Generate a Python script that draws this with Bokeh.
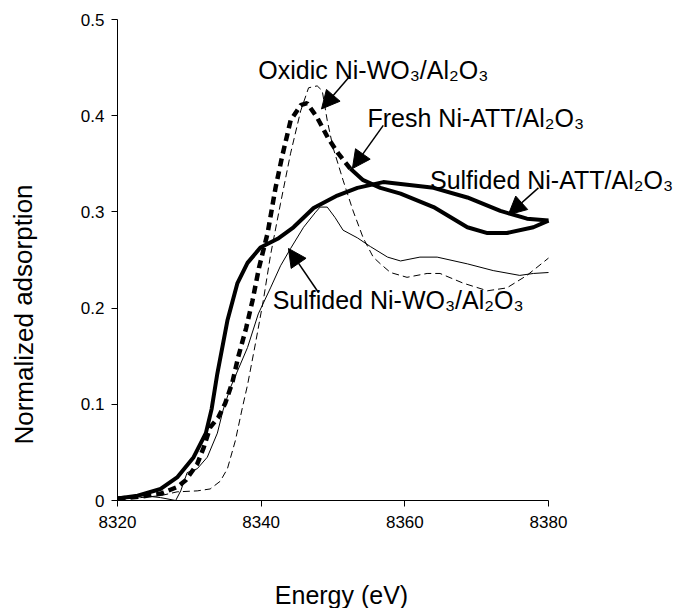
from bokeh.plotting import figure
from bokeh.models import Range1d, FixedTicker, Label, Arrow, NormalHead, LinearAxis
from bokeh.embed import file_html
from bokeh.resources import INLINE

# ---- data ----
sulf_att_E = [8320.0, 8322.8, 8326.0, 8328.3, 8330.6, 8332.3, 8333.1, 8333.9, 8335.3, 8336.7,
              8338.1, 8339.9, 8342.3, 8344.5, 8347.3, 8350.6, 8353.4, 8357.0, 8364.0, 8368.7,
              8373.3, 8377.0, 8380.0]
sulf_att_A = [0.002, 0.005, 0.012, 0.024, 0.045, 0.070, 0.095, 0.132, 0.187, 0.226,
              0.247, 0.263, 0.272, 0.284, 0.304, 0.317, 0.325, 0.331, 0.325, 0.315,
              0.301, 0.293, 0.291]

fresh_E = [8320.0, 8323.2, 8326.0, 8328.3, 8329.5, 8331.1, 8332.0, 8332.9, 8334.0, 8335.0,
           8336.0, 8336.8, 8337.9, 8338.8, 8339.7, 8340.9, 8342.0, 8342.9, 8344.1, 8345.5,
           8346.4, 8347.8, 8349.3, 8350.7, 8352.4, 8354.2, 8356.6, 8359.4, 8364.0, 8368.7,
           8371.5, 8374.2, 8377.9, 8380.0]
fresh_A = [0.002, 0.004, 0.007, 0.014, 0.021, 0.038, 0.055, 0.076, 0.086, 0.101,
           0.123, 0.149, 0.179, 0.208, 0.242, 0.278, 0.325, 0.357, 0.395, 0.411,
           0.413, 0.398, 0.377, 0.361, 0.345, 0.333, 0.325, 0.319, 0.305, 0.284,
           0.278, 0.278, 0.284, 0.291]

oxi_E = [8320.0, 8323.2, 8326.0, 8328.3, 8331.1, 8332.9, 8334.3, 8335.3, 8336.4, 8337.4,
         8338.1, 8339.2, 8340.3, 8341.3, 8342.7, 8344.1, 8345.5, 8346.6, 8347.8, 8348.5,
         8349.2, 8350.0, 8351.4, 8352.8, 8354.2, 8355.6, 8356.6, 8358.0, 8360.3, 8363.1,
         8364.9, 8368.1, 8371.5, 8374.2, 8377.0, 8380.0]
oxi_A = [0.001, 0.003, 0.005, 0.009, 0.010, 0.012, 0.020, 0.033, 0.062, 0.097,
         0.120, 0.163, 0.208, 0.255, 0.309, 0.361, 0.405, 0.429, 0.431, 0.426,
         0.395, 0.367, 0.333, 0.301, 0.273, 0.253, 0.246, 0.237, 0.232, 0.236,
         0.236, 0.226, 0.218, 0.221, 0.234, 0.252]

sulf_w_E = [8320.0, 8321.8, 8323.6, 8326.0, 8328.1, 8328.8, 8329.7, 8331.1, 8332.5, 8333.9,
            8334.7, 8335.7, 8338.1, 8339.6, 8341.3, 8342.7, 8344.1, 8345.9, 8347.5, 8348.2,
            8349.2, 8350.3, 8351.4, 8353.4, 8355.2, 8357.6, 8359.4, 8362.1, 8364.5, 8368.7,
            8372.3, 8376.0, 8377.9, 8380.0]
sulf_w_A = [0.001, 0.003, 0.005, 0.003, 0.000, 0.010, 0.029, 0.033, 0.045, 0.070,
            0.094, 0.117, 0.159, 0.194, 0.221, 0.244, 0.262, 0.284, 0.299, 0.305,
            0.305, 0.294, 0.281, 0.273, 0.264, 0.253, 0.249, 0.253, 0.253, 0.246,
            0.239, 0.234, 0.236, 0.237]

x_ticks = [8320, 8340, 8360, 8380]
y_ticks = [0.0, 0.1, 0.2, 0.3, 0.4, 0.5]
y_tick_labels = ["0", "0.1", "0.2", "0.3", "0.4", "0.5"]

FONT = "Liberation Sans"
W, H = 683, 608
# plot area of the reference, in page pixels
AX_L, AX_R, AX_T, AX_B = 117, 548, 19, 500
X0, X1 = x_ticks[0], x_ticks[-1]
Y0, Y1 = y_ticks[0], y_ticks[-1]
pxx = (AX_R - AX_L) / (X1 - X0)
pxy = (AX_B - AX_T) / (Y1 - Y0)

# the frame fills the whole page; axes are drawn at fixed data locations
p = figure(width=W, height=H, output_backend="svg", toolbar_location=None,
           x_axis_location=None, y_axis_location=None,
           x_range=Range1d(X0 - AX_L / pxx, X1 + (W - AX_R) / pxx),
           y_range=Range1d(Y0 - (H - AX_B) / pxy, Y1 + AX_T / pxy),
           min_border=0)
p.outline_line_color = None
p.grid.visible = False
p.background_fill_color = "white"
p.border_fill_color = "white"

xax = LinearAxis(fixed_location=Y0, bounds=(X0, X1), ticker=FixedTicker(ticks=x_ticks))
yax = LinearAxis(fixed_location=X0, bounds=(Y0, Y1), ticker=FixedTicker(ticks=y_ticks))
yax.major_label_overrides = {t: l for t, l in zip(y_ticks, y_tick_labels)}
for ax in (xax, yax):
    ax.axis_line_color = "black"
    ax.axis_line_width = 1
    ax.major_tick_line_color = "black"
    ax.minor_tick_line_color = None
    ax.major_tick_in = 0
    ax.major_tick_out = 6
    ax.major_label_text_font = FONT
    ax.major_label_text_font_size = "17px"
    ax.major_label_text_color = "black"
xax.major_label_standoff = 9
yax.major_label_standoff = 7
p.add_layout(xax, "below")
p.add_layout(yax, "left")

# axis titles
p.add_layout(Label(x=X0 - (AX_L - 23) / pxx, y=Y0 + (AX_B - 314) / pxy,
                   text="Normalized adsorption", angle=1.5708,
                   text_align="center", text_baseline="middle", text_font=FONT,
                   text_font_size="26px", text_color="black"))
p.add_layout(Label(x=X0 + (341 - AX_L) / pxx, y=Y0 - (594 - AX_B) / pxy,
                   text="Energy (eV)", text_align="center", text_baseline="alphabetic",
                   text_font=FONT, text_font_size="25px", text_color="black"))

# curves
p.line(sulf_att_E, sulf_att_A, line_color="black", line_width=4)
k = fresh_E.index(8352.4)
p.line(fresh_E[:k + 1], fresh_A[:k + 1], line_color="black", line_width=4.5, line_dash="8 5")
p.line(fresh_E[k:], fresh_A[k:], line_color="black", line_width=4)
p.line(oxi_E, oxi_A, line_color="black", line_width=1, line_dash="7 4")
p.line(sulf_w_E, sulf_w_A, line_color="black", line_width=1)

# curve labels with arrows
notes = [
    ("Oxidic Ni-WO\u2083/Al\u2082O\u2083", 8339.6, 0.448, (8352.1, 0.439), (8348.4, 0.407)),
    ("Fresh  Ni-ATT/Al\u2082O\u2083", 8354.8, 0.398, (8357.0, 0.390), (8352.7, 0.345)),
    ("Sulfided Ni-ATT/Al\u2082O\u2083", 8363.5, 0.333, (8378.6, 0.325), (8374.4, 0.297)),
    ("Sulfided Ni-WO\u2083/Al\u2082O\u2083", 8341.6, 0.208, (8348.0, 0.216), (8343.8, 0.262)),
]
for txt, tx, ty, (sx, sy), (ex, ey) in notes:
    p.add_layout(Label(x=tx, y=ty, text=txt, text_align="left", text_baseline="alphabetic",
                       text_font=FONT, text_font_size="25px", text_color="black"))
    p.add_layout(Arrow(x_start=sx, y_start=sy, x_end=ex, y_end=ey, line_color="black",
                       line_width=1.5,
                       end=NormalHead(size=18, fill_color="black", line_color="black")))

open("out.html", "w").write(file_html(p, INLINE))
